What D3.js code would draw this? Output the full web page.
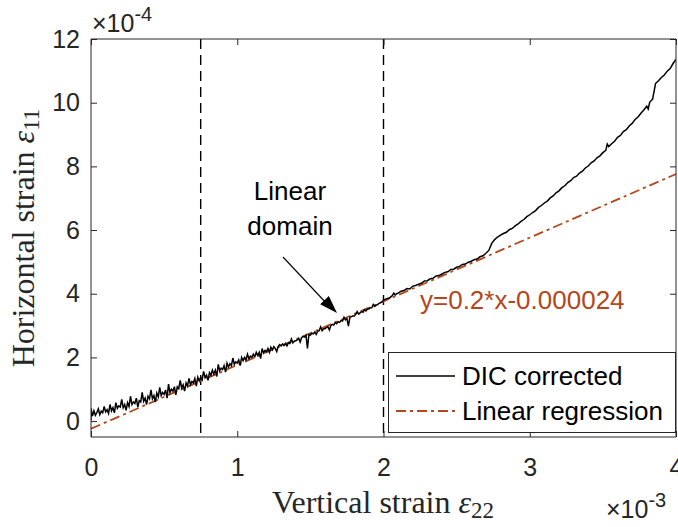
<!DOCTYPE html>
<html><head><meta charset="utf-8">
<script src="https://cdn.jsdelivr.net/npm/d3@7"></script>
<style>body{margin:0;background:#fff}svg{display:block}</style>
</head><body>
<script>
// DIC corrected strain curve: [vertical strain (×1e-3), horizontal strain (×1e-4)]
const dicCorrected = [
[0.00,0.02],[0.00,0.40],[0.01,0.16],[0.02,0.32],[0.03,0.18],[0.04,0.27],[0.05,0.38],[0.06,0.20],[0.07,0.31],[0.08,0.26],[0.09,0.46],
[0.10,0.29],[0.11,0.36],[0.12,0.24],[0.13,0.52],[0.14,0.32],[0.15,0.42],[0.16,0.26],[0.17,0.58],[0.18,0.40],[0.19,0.48],
[0.20,0.44],[0.21,0.68],[0.22,0.42],[0.23,0.52],[0.24,0.34],[0.25,0.58],[0.26,0.46],[0.27,0.78],[0.28,0.52],[0.29,0.60],
[0.30,0.55],[0.31,0.72],[0.32,0.44],[0.33,0.64],[0.34,0.60],[0.35,0.90],[0.36,0.62],[0.37,0.72],[0.38,0.52],[0.39,0.78],
[0.40,0.70],[0.41,0.98],[0.42,0.70],[0.43,0.80],[0.44,0.60],[0.45,0.88],[0.46,0.76],[0.47,1.06],[0.48,0.80],[0.49,0.90],
[0.50,0.84],[0.51,0.98],[0.52,0.72],[0.53,1.16],[0.54,0.90],[0.55,1.00],[0.56,0.94],[0.57,1.08],[0.58,0.82],[0.59,1.08],
[0.60,1.02],[0.61,1.28],[0.62,1.04],[0.63,1.14],[0.64,0.94],[0.65,1.20],[0.66,1.10],[0.67,1.34],[0.68,1.14],[0.69,1.24],
[0.70,1.20],[0.71,1.34],[0.72,1.10],[0.73,1.38],[0.74,1.26],[0.75,1.38],[0.76,1.30],[0.77,1.56],[0.78,1.36],[0.79,1.44],
[0.80,1.28],[0.81,1.52],[0.82,1.44],[0.83,1.60],[0.84,1.48],[0.85,1.60],[0.86,1.40],[0.87,1.78],[0.88,1.58],[0.89,1.66],
[0.90,1.62],[0.91,1.74],[0.92,1.54],[0.93,1.82],[0.94,1.70],[0.95,1.80],[0.96,1.74],[0.97,1.98],[0.98,1.78],[0.99,1.86],
[1.00,1.82],[1.01,1.92],[1.02,1.74],[1.03,2.00],[1.04,1.90],[1.05,2.00],[1.06,1.92],[1.07,2.10],[1.08,1.96],[1.09,2.04],
[1.10,2.00],[1.11,2.10],[1.12,2.02],[1.13,2.16],[1.14,2.06],[1.15,2.16],[1.16,1.96],[1.17,2.28],[1.18,2.14],[1.19,2.22],
[1.20,2.18],[1.21,2.28],[1.22,2.16],[1.23,2.32],[1.24,2.24],[1.25,2.34],[1.26,2.28],[1.27,2.18],[1.28,2.34],[1.29,2.40],
[1.30,2.36],[1.31,2.42],[1.32,2.37],[1.33,2.44],[1.34,2.36],[1.35,2.46],[1.36,2.44],[1.37,2.58],[1.38,2.46],[1.39,2.51],
[1.40,2.52],[1.41,2.55],[1.42,2.60],[1.43,2.48],[1.44,2.62],[1.45,2.66],[1.46,2.64],[1.47,2.70],[1.48,2.28],[1.49,2.72],
[1.50,2.70],[1.51,2.76],[1.52,2.74],[1.53,2.80],[1.54,2.72],[1.55,2.82],[1.56,2.84],[1.57,2.96],[1.58,2.84],[1.59,2.90],
[1.60,2.90],[1.61,2.94],[1.62,2.96],[1.63,2.86],[1.64,3.00],[1.65,3.04],[1.66,3.02],[1.67,3.10],[1.68,3.06],[1.69,3.12],
[1.70,3.10],[1.71,3.16],[1.72,3.14],[1.73,3.26],[1.74,3.18],[1.75,3.22],[1.76,2.98],[1.77,3.26],[1.78,3.28],[1.79,3.30],
[1.80,3.30],[1.81,3.35],[1.82,3.44],[1.83,3.36],[1.84,3.40],[1.85,3.44],[1.86,3.42],[1.87,3.50],[1.88,3.46],[1.89,3.52],
[1.90,3.52],[1.91,3.56],[1.92,3.56],[1.93,3.66],[1.94,3.60],[1.95,3.64],[1.96,3.66],[1.97,3.70],[1.98,3.72],[1.99,3.74],
[2.00,3.80],[2.01,3.82],[2.02,3.84],[2.03,3.86],[2.04,3.86],[2.05,3.90],[2.06,3.94],[2.07,4.02],[2.08,3.96],[2.09,4.00],
[2.10,4.02],[2.12,4.08],[2.14,4.10],[2.16,4.16],[2.18,4.15],[2.20,4.24],[2.22,4.26],[2.24,4.30],[2.26,4.33],[2.28,4.40],
[2.30,4.41],[2.32,4.47],[2.34,4.49],[2.36,4.56],[2.38,4.57],[2.40,4.62],[2.42,4.67],[2.44,4.69],[2.46,4.76],[2.48,4.77],
[2.50,4.83],[2.52,4.86],[2.54,4.92],[2.56,4.93],[2.58,4.99],[2.60,5.02],[2.62,5.07],[2.64,5.09],[2.66,5.16],[2.68,5.19],
[2.70,5.27],[2.72,5.36],[2.74,5.58],[2.76,5.70],[2.78,5.78],[2.80,5.84],[2.82,5.89],[2.84,5.93],[2.86,6.01],[2.88,6.05],
[2.90,6.13],[2.92,6.19],[2.94,6.27],[2.96,6.33],[2.98,6.42],[3.00,6.48],[3.02,6.55],[3.04,6.61],[3.06,6.71],[3.08,6.77],
[3.10,6.85],[3.12,6.91],[3.14,7.01],[3.16,7.07],[3.18,7.17],[3.20,7.23],[3.22,7.33],[3.24,7.39],[3.26,7.49],[3.28,7.55],
[3.30,7.65],[3.32,7.69],[3.34,7.79],[3.36,7.85],[3.38,7.95],[3.40,8.01],[3.42,8.11],[3.44,8.17],[3.46,8.27],[3.48,8.33],
[3.50,8.43],[3.52,8.50],[3.53,8.70],[3.54,8.62],[3.56,8.71],[3.58,8.79],[3.60,8.91],[3.62,8.97],[3.64,9.09],[3.66,9.15],
[3.68,9.27],[3.70,9.35],[3.72,9.47],[3.74,9.55],[3.76,9.67],[3.78,9.77],[3.80,9.89],[3.81,9.80],[3.82,10.01],[3.84,10.11],
[3.86,10.60],[3.88,10.69],[3.90,10.79],[3.92,10.87],[3.94,10.99],[3.96,11.07],[3.98,11.23],[4.00,11.36]
];
// Linear regression y = 0.2*x - 0.000024 evaluated at the ends (in plot units)
const regressionX = [0, 4];
const regressionY = [-0.24, 7.76];
const domainBounds = [0.75, 2.0];
const xTicks = [0, 1, 2, 3, 4];
const yTicks = [0, 2, 4, 6, 8, 10, 12];
const legendLabels = ["DIC corrected", "Linear regression"];

const W = 678, H = 527;
const m = {l: 91, r: 2, t: 39, b: 90};
const x = d3.scaleLinear().domain([0, 4]).range([m.l, W - m.r]);
const y = d3.scaleLinear().domain([-0.5, 12]).range([H - m.b, m.t]);
const axisCol = "#262626", red = "#B5461A";
const sans = "Liberation Sans, Arial, Helvetica, sans-serif";
const serif = "Liberation Serif, Times New Roman, serif";
const regDash = "10,4,3,4";

const svg = d3.select("body").append("svg").attr("width", W).attr("height", H);
const x0 = x(0), x1 = x(4), y0 = y(-0.5), y1 = y(12);

svg.append("defs").append("clipPath").attr("id", "clip")
  .append("rect").attr("x", x0).attr("y", y1).attr("width", x1 - x0).attr("height", y0 - y1);

const plot = svg.append("g").attr("clip-path", "url(#clip)");

plot.selectAll("line.bound").data(domainBounds).enter().append("line")
  .attr("x1", d => x(d)).attr("x2", d => x(d)).attr("y1", y1).attr("y2", y0)
  .attr("stroke", "#000").attr("stroke-width", 1.4).attr("stroke-dasharray", "10,6");

plot.append("path")
  .attr("d", d3.line().x(d => x(d[0])).y(d => y(d[1]))(regressionX.map((v, i) => [v, regressionY[i]])))
  .attr("fill", "none").attr("stroke", red).attr("stroke-width", 1.8).attr("stroke-dasharray", regDash);

plot.append("path")
  .attr("d", d3.line().x(d => x(d[0])).y(d => y(d[1]))(dicCorrected))
  .attr("fill", "none").attr("stroke", "#000").attr("stroke-width", 1.5).attr("stroke-linejoin", "miter");

const fs = 25;
const gx = svg.append("g").attr("transform", `translate(0,${y0})`)
  .call(d3.axisBottom(x).tickValues(xTicks).tickSize(-6).tickPadding(21).tickFormat(d3.format("d")));
const gx2 = svg.append("g").attr("transform", `translate(0,${y1})`)
  .call(d3.axisTop(x).tickValues(xTicks).tickSize(-6).tickFormat(""));
const gy = svg.append("g").attr("transform", `translate(${x0},0)`)
  .call(d3.axisLeft(y).tickValues(yTicks).tickSize(-6).tickPadding(11).tickFormat(d3.format("d")));
const gy2 = svg.append("g").attr("transform", `translate(${x1},0)`)
  .call(d3.axisRight(y).tickValues(yTicks).tickSize(-6).tickFormat(""));
[gx, gx2, gy, gy2].forEach(g => {
  g.select(".domain").attr("stroke", axisCol).attr("stroke-width", 1);
  g.selectAll(".tick line").attr("stroke", axisCol);
  g.selectAll("text").attr("fill", axisCol).style("font-family", sans).style("font-size", fs + "px");
});
gx.select(".domain").attr("d", `M${x0},0H${x1}`);
gx2.select(".domain").attr("d", `M${x0},0H${x1}`);
gy.select(".domain").attr("d", `M0,${y0}V${y1}`);
gy2.select(".domain").attr("d", `M0,${y0}V${y1}`);

function expLabel(px, py, exp) {
  const t = svg.append("text").attr("x", px).attr("y", py).attr("fill", axisCol)
    .style("font-family", sans).style("font-size", fs + "px");
  t.append("tspan").text("×10");
  t.append("tspan").attr("dy", -11).style("font-size", "20px").text(exp);
}
expLabel(92, 32, "-4");
expLabel(606, 518, "-3");

const xl = svg.append("text").attr("x", 383).attr("y", 513).attr("text-anchor", "middle")
  .attr("fill", axisCol).style("font-family", serif).style("font-size", "32px");
xl.append("tspan").text("Vertical strain ");
xl.append("tspan").style("font-style", "italic").text("ε");
xl.append("tspan").attr("dy", 5).style("font-size", "23px").text("22");

const yl = svg.append("text").attr("transform", "translate(34,238) rotate(-90)").attr("text-anchor", "middle")
  .attr("fill", axisCol).style("font-family", serif).style("font-size", "32px");
yl.append("tspan").text("Horizontal strain ");
yl.append("tspan").style("font-style", "italic").text("ε");
yl.append("tspan").attr("dy", 5).style("font-size", "23px").text("11");

svg.append("text").attr("x", 290).attr("y", 200).attr("text-anchor", "middle")
  .style("font-family", sans).style("font-size", "26px").attr("fill", "#000").text("Linear");
svg.append("text").attr("x", 290).attr("y", 235).attr("text-anchor", "middle")
  .style("font-family", sans).style("font-size", "26px").attr("fill", "#000").text("domain");
svg.append("line").attr("x1", 283).attr("y1", 257).attr("x2", 328).attr("y2", 305)
  .attr("stroke", "#000").attr("stroke-width", 1.1);
(function(){
  const tip = [337, 313], ang = Math.atan2(313 - 257, 337 - 283), L = 18, Wd = 6;
  const bx = tip[0] - L * Math.cos(ang), by = tip[1] - L * Math.sin(ang);
  const nx = -Math.sin(ang) * Wd, ny = Math.cos(ang) * Wd;
  svg.append("path").attr("d", `M${tip[0]},${tip[1]}L${bx + nx},${by + ny}L${bx - nx},${by - ny}Z`).attr("fill", "#000");
})();
svg.append("text").attr("x", 420).attr("y", 309).style("font-family", sans).style("font-size", "26px")
  .attr("fill", red).text("y=0.2*x-0.000024");

const lg = svg.append("g");
lg.append("rect").attr("x", 388.5).attr("y", 352.5).attr("width", 287).attr("height", 80)
  .attr("fill", "#fff").attr("stroke", axisCol).attr("stroke-width", 1);
const rows = [{y: 376, col: "#000", dash: null}, {y: 411, col: red, dash: regDash}];
rows.forEach((r, i) => {
  lg.append("line").attr("x1", 396).attr("x2", 455).attr("y1", r.y).attr("y2", r.y)
    .attr("stroke", r.col).attr("stroke-width", i ? 1.8 : 1.5).attr("stroke-dasharray", r.dash);
  lg.append("text").attr("x", 462).attr("y", r.y + 9).style("font-family", sans).style("font-size", "26px")
    .attr("fill", "#000").text(legendLabels[i]);
});
</script>
</body></html>
